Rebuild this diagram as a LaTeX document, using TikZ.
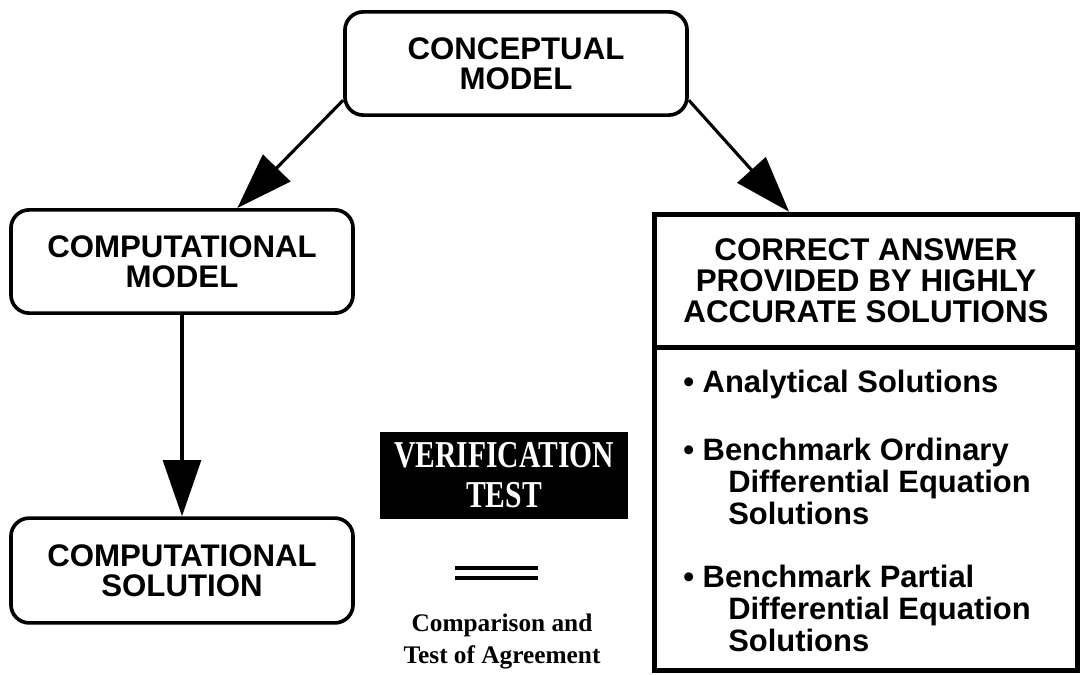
\documentclass[tikz,border=0pt]{standalone}
\usepackage{fontspec}
\setmainfont{Liberation Serif}
\setsansfont{Liberation Sans}
\usetikzlibrary{arrows.meta}
\begin{document}
\begin{tikzpicture}
  [x=0.025cm,y=-0.025cm,
   box/.style={draw=black,line width=2.6pt,rounded corners=13pt,minimum width=8.55cm,minimum height=2.58cm,align=center,font=\sffamily\bfseries\fontsize{22.2}{21.5}\selectfont},
   sq/.style={draw=black,line width=3.5pt,minimum width=10.59cm,inner sep=0pt},
   item/.style={anchor=north west,inner sep=0pt,align=left,font=\sffamily\bfseries\fontsize{22}{22.8}\selectfont},
   arr/.style={line width=2.2pt,-{Triangle[length=40pt,width=27pt]}}]
  \useasboundingbox (0,0) rectangle (1083,675);
  \node[box] (con) at (516,63.5) {CONCEPTUAL\\MODEL};
  \node[box] (mod) at (182,261.5) {COMPUTATIONAL\\MODEL};
  \node[box,minimum height=2.62cm] (sol) at (182,570.5) {COMPUTATIONAL\\SOLUTION};
  \node[sq,minimum height=3.34cm,align=center,font=\sffamily\bfseries\fontsize{22.3}{22}\selectfont] (ans) at (866,281) {CORRECT ANSWER\\PROVIDED BY HIGHLY\\ACCURATE SOLUTIONS};
  \node[sq,minimum height=8.06cm] (lst) at (866,509) {};
  \node[item] (s1) at (683,370) {\textbullet\ Analytical Solutions};
  \node[item] (s2) at (683,438) {\textbullet\ Benchmark Ordinary\\\hspace*{32pt}Differential Equation\\\hspace*{32pt}Solutions};
  \node[item] (s3) at (683,565) {\textbullet\ Benchmark Partial\\\hspace*{32pt}Differential Equation\\\hspace*{32pt}Solutions};

  \node[fill=black,text=white,minimum width=6.2cm,minimum height=2.175cm,align=center,font=\rmfamily\bfseries\fontsize{27}{28.5}\selectfont] (ver) at (504,475.5) {\scalebox{0.78}[1]{VERIFICATION}\\\scalebox{0.78}[1]{TEST}};
  \draw[line width=2.2pt] (455,568) -- (538,568) (455,578) -- (538,578);
  \node[anchor=north,inner sep=0pt,align=center,font=\rmfamily\bfseries\fontsize{18}{22.8}\selectfont] (cmp) at (502,614) {Comparison and\\Test of Agreement};

  \foreach \from/\to in {con.192/mod.44, con.348/ans.138, mod.south/sol.north}
    \draw[arr] (\from) -- (\to);
\end{tikzpicture}
\end{document}
